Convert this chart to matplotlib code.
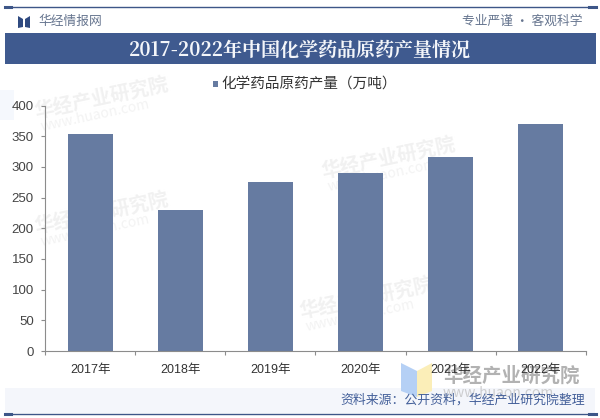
import matplotlib
matplotlib.use('Agg')
import matplotlib.pyplot as plt
from matplotlib.patches import Rectangle, Polygon

plt.rcParams['font.family'] = ['Noto Sans CJK SC', 'DejaVu Sans']

years = ['2017年', '2018年', '2019年', '2020年', '2021年', '2022年']
output = [354, 230, 276, 290, 316, 370]
y_ticks = [0, 50, 100, 150, 200, 250, 300, 350, 400]
series_name = '化学药品原药产量\uff08万吨\uff09'
title = '2017-2022年中国化学药品原药产量情况'
source = '资料来源\uff1a公开资料\uff0c华经产业研究院整理'

W, H = 600, 418
fig = plt.figure(figsize=(W / 100, H / 100), dpi=100, facecolor='white')
bg = fig.add_axes([0, 0, 1, 1], zorder=0)
bg.set_xlim(0, W)
bg.set_ylim(H, 0)
bg.axis('off')

NAVY = '#3f5a8f'
BAR = '#667ba1'
LATIN = ['Liberation Sans', 'Noto Sans CJK SC']
# soft background tints
bg.add_patch(Rectangle((0, 90), 14, 30, color='#f5f8fd', lw=0))
bg.add_patch(Rectangle((5, 388), 590, 25, color='#f4f6fb', lw=0))
# frame lines
bg.plot([5, 595], [6.5, 6.5], color='#3d5688', lw=1.0)
bg.plot([5, 595], [413.5, 413.5], color='#3d5688', lw=1.0)
for x0, x1 in ((5, 11), (589, 596)):
    bg.plot([x0, x1], [6.5, 6.5], color='#3d5688', lw=2.2)
    bg.plot([x0, x1], [413.5, 413.5], color='#3d5688', lw=2.2)
# title band
bg.add_patch(Rectangle((5, 33), 591, 31, color=NAVY, lw=0))
bg.text(300, 49.5, title, color='#f4f6fa', fontsize=13.7, fontweight='bold',
        family=['Noto Serif CJK SC', 'Noto Sans CJK SC', 'DejaVu Sans'], ha='center', va='center')
# logo
bg.add_patch(Polygon([(18, 16), (23, 19), (23, 27), (18, 28)], color='#2f4a80', lw=0))
bg.add_patch(Polygon([(30, 16), (25, 19), (25, 27), (30, 28)], color='#2f4a80', lw=0))
bg.text(38, 21, '华经情报网', color='#66758f', fontsize=9.2, va='center')
bg.text(583, 21, '专业严谨 • 客观科学', color='#66758f', fontsize=9.2, va='center', ha='right')
# footer logo
bg.add_patch(Polygon([(401, 363), (417, 371), (417, 397), (401, 391)], color='#b5d0f5', lw=0))
bg.add_patch(Polygon([(417, 371), (432, 363), (432, 391), (417, 397)], color='#fbeeb8', lw=0))
bg.text(443, 376, '华经产业研究院', color='#a5a5a5', fontsize=14, fontweight='bold', va='center', alpha=.85)
bg.text(443, 393, 'www.huaon.com', color='#bdbdbd', fontsize=10, va='center', alpha=.7)
bg.text(585, 400, source, color='#44609a', fontsize=9.3, va='center', ha='right')
# watermarks
for x, y in ((35, 112), (322, 172), (35, 227), (300, 312)):
    bg.text(x, y, '华经产业研究院', color='#f1f1f1', fontsize=14, fontweight='bold',
            rotation=12, va='center', rotation_mode='anchor')
    bg.text(x + 6, y + 15, 'www.huaon.com', color='#f3f3f3', fontsize=10,
            rotation=12, va='center', rotation_mode='anchor')

ax = fig.add_axes([45 / W, 1 - 351 / H, (586 - 45) / W, (351 - 105.5) / H], zorder=2)
ax.patch.set_alpha(0)
ax.bar(range(len(years)), output, width=0.5, color=BAR)
ax.set_xlim(-0.5, len(years) - 0.5)
ax.set_ylim(0, 400)
ax.set_yticks(y_ticks)
ax.set_xticks([i - 0.5 for i in range(len(years) + 1)], minor=False, labels=[''] * (len(years) + 1))
ax.set_xticks(range(len(years)), labels=years, minor=True)
ax.tick_params(axis='x', which='minor', length=0, pad=9, labelsize=9, labelcolor='#333333')
ax.tick_params(axis='x', which='major', length=3, color='#8c8c8c')
ax.tick_params(axis='y', length=3, color='#8c8c8c', labelsize=9.5, labelcolor='#444444', pad=5)
for lab in ax.get_xticklabels(minor=True) + ax.get_yticklabels():
    lab.set_family(LATIN)
for s in ('top', 'right'):
    ax.spines[s].set_visible(False)
for s in ('left', 'bottom'):
    ax.spines[s].set_color('#8c8c8c')
    ax.spines[s].set_linewidth(0.8)
# legend
bg.add_patch(Rectangle((213, 81), 5, 6, color=BAR, lw=0))
bg.text(221, 84, series_name, color='#333333', fontsize=10.5, va='center')
fig.savefig('out.png', dpi=100)
